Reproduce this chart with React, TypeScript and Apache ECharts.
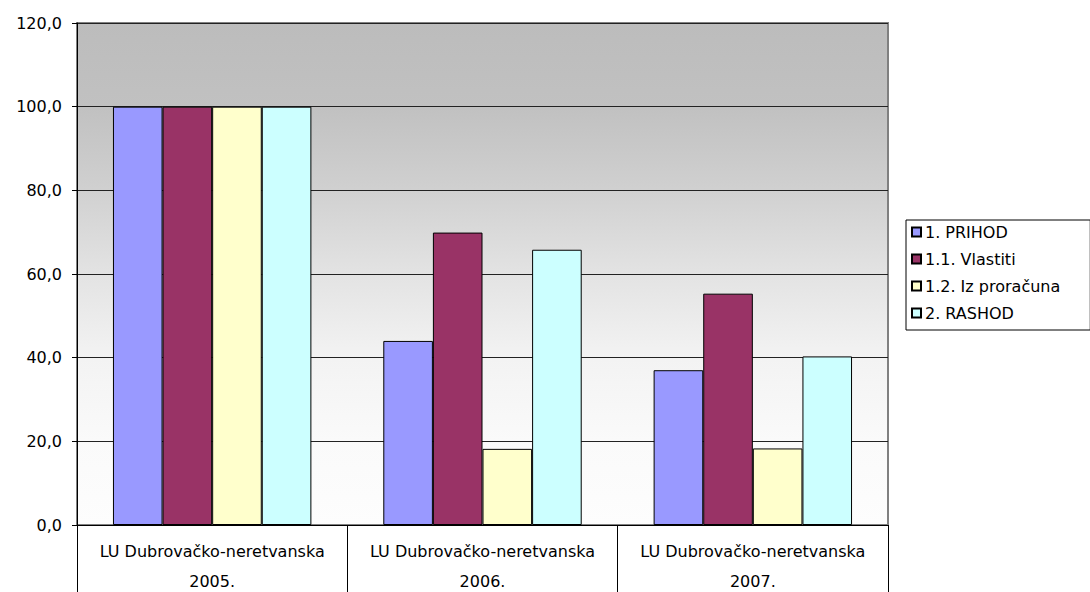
import React, { useEffect, useRef } from "react";
import * as echarts from "echarts";

const categories = [
  "LU Dubrovačko-neretvanska\n2005.",
  "LU Dubrovačko-neretvanska\n2006.",
  "LU Dubrovačko-neretvanska\n2007.",
];
const seriesNames = ["1. PRIHOD", "1.1. Vlastiti", "1.2. Iz proračuna", "2. RASHOD"];
const prihod = [100.0, 44.0, 37.0];
const vlastiti = [100.0, 69.9, 55.3];
const izProracuna = [100.0, 18.2, 18.3];
const rashod = [100.0, 65.8, 40.3];
const yTicks = { min: 0, max: 120, interval: 20 };
const colors = ["#9999ff", "#993366", "#ffffcc", "#ccffff"];

const FONT = '"DejaVu Sans", Verdana, sans-serif';

export default function App() {
  const ref = useRef<HTMLDivElement>(null);
  useEffect(() => {
    if (!ref.current) return;
    const chart = echarts.init(ref.current, null, { renderer: "svg" });
    const values = [prihod, vlastiti, izProracuna, rashod];
    chart.setOption({
      animation: false,
      backgroundColor: "#ffffff",
      grid: {
        left: 77,
        top: 23,
        width: 811,
        height: 502,
        containLabel: false,
        outerBoundsMode: "none",
        show: true,
        borderColor: "#808080",
        borderWidth: 2,
        backgroundColor: new echarts.graphic.LinearGradient(0, 0, 0, 1, [
          { offset: 0, color: "#bcbcbc" },
          { offset: 0.17, color: "#c1c1c1" },
          { offset: 0.33, color: "#d0d0d0" },
          { offset: 0.5, color: "#e3e3e3" },
          { offset: 0.67, color: "#f3f3f3" },
          { offset: 0.83, color: "#fafafa" },
          { offset: 1, color: "#fdfdfd" },
        ]),
      },
      legend: {
        orient: "vertical",
        left: 906,
        top: 220,
        padding: [4, 30, 9, 5],
        itemWidth: 9,
        itemHeight: 9,
        itemGap: 11,
        icon: "rect",
        backgroundColor: "#ffffff",
        borderColor: "#000000",
        borderWidth: 1,
        borderRadius: 0,
        textStyle: { fontFamily: FONT, fontSize: 16, color: "#000000", padding: [0, 0, 0, -1] },
        data: seriesNames,
      },
      xAxis: {
        type: "category",
        data: categories,
        axisLine: { show: true, lineStyle: { color: "#000000", width: 1 } },
        axisTick: { show: true, length: 67, interval: 0, lineStyle: { color: "#000000", width: 1 } },
        axisLabel: {
          fontFamily: FONT,
          fontSize: 16,
          color: "#000000",
          lineHeight: 30,
          margin: 11,
          interval: 0,
        },
      },
      yAxis: {
        type: "value",
        min: yTicks.min,
        max: yTicks.max,
        interval: yTicks.interval,
        axisLine: { show: true, lineStyle: { color: "#000000", width: 1 } },
        axisTick: { show: true, length: 5, lineStyle: { color: "#000000" } },
        splitLine: { show: true, lineStyle: { color: "#222222", width: 1 } },
        axisLabel: {
          fontFamily: FONT,
          fontSize: 16,
          color: "#000000",
          margin: 15,
          formatter: (v: number) => v.toFixed(1).replace(".", ","),
        },
      },
      series: seriesNames.map((name, i) => ({
        name,
        type: "bar",
        data: values[i],
        barGap: "0%",
        barCategoryGap: "26.6%",
        itemStyle: { color: colors[i], borderColor: "#000000", borderWidth: 1 },
      })),
    });
    return () => chart.dispose();
  }, []);
  return (
    <div
      ref={ref}
      style={{ position: "fixed", left: 0, top: 0, width: 1090, height: 592 }}
    />
  );
}
